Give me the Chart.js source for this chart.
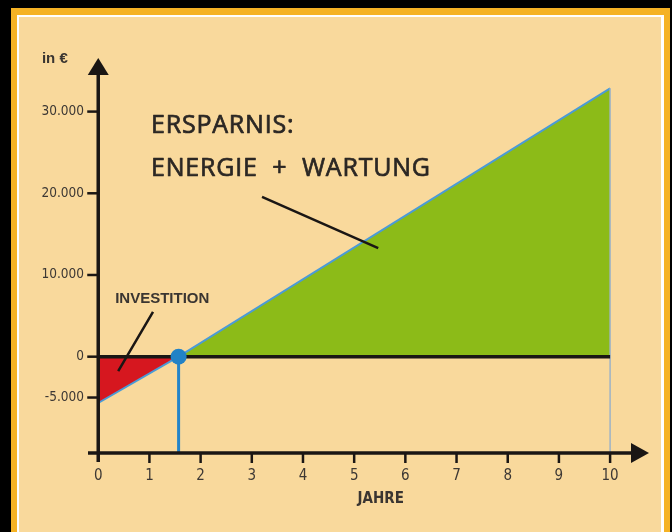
<!DOCTYPE html>
<html>
<head>
<meta charset="utf-8">
<script src="https://cdn.jsdelivr.net/npm/chart.js@4.4.1/dist/chart.umd.min.js"></script>
<style>
  html, body { margin: 0; padding: 0; background: #000; width: 672px; height: 532px; overflow: hidden; }
  .frame { position: absolute; left: 11px; top: 8px; width: 659px; height: 600px; background: #f5b224; }
  .inner { position: absolute; left: 6px; top: 7px; right: 6px; bottom: 0; background: #fff; }
  .panel { position: absolute; left: 2px; top: 2px; right: 3px; bottom: 0; background: #f9d99c; }
  #chart { position: absolute; left: 0; top: 0; }
</style>
</head>
<body>
<div class="frame"><div class="inner"><div class="panel"></div></div></div>
<canvas id="chart" width="672" height="532"></canvas>
<script>
// Werte
const years = [0, 1.57, 10];          // Jahre
const saldo = [-5670, 0, 32850];      // Saldo in €
const xTickValues = [0, 1, 2, 3, 4, 5, 6, 7, 8, 9, 10];
const yTickValues = [-5000, 0, 10000, 20000, 30000];

// Achsenbereich
const X_MIN = -0.2, X_MAX = 10.76;
const Y_MIN = -11790, Y_MAX = 36560;

const breakEven = years[1];
const redData = years.slice(0, 2).map((x, i) => ({ x, y: saldo[i] }));
const greenData = years.slice(1).map((x, i) => ({ x, y: saldo[i + 1] }));
const zeroLine = [{ x: years[0], y: 0 }, { x: years[2], y: 0 }];
const dropLine = [{ x: breakEven, y: 0 }, { x: breakEven, y: Y_MIN }];
const endLine = [{ x: years[2], y: saldo[2] }, { x: years[2], y: Y_MIN }];

const DARK = '#2b2724';
const TICK_COLOR = '#3d3834';
const NARROW = '"DejaVu Sans Condensed", "Liberation Sans", sans-serif';

function formatDE(v) {
  const s = Math.abs(v).toString().replace(/\B(?=(\d{3})+(?!\d))/g, '.');
  return (v < 0 ? '-' : '') + s;
}

// ==================== Achsen, Pfeile, Beschriftungen ====================
const axesPlugin = {
  id: 'axesPlugin',
  afterDatasetsDraw(chart) {
    const { ctx, chartArea, scales: { x, y } } = chart;
    const px0 = x.getPixelForValue(0);
    const axisY = y.getPixelForValue(Y_MIN);

    ctx.save();
    ctx.strokeStyle = '#1a1614';
    ctx.fillStyle = '#1a1614';
    ctx.lineCap = 'butt';

    // y-Achse
    ctx.lineWidth = 3.5;
    ctx.beginPath();
    ctx.moveTo(px0, axisY + 9);
    ctx.lineTo(px0, chartArea.top + 15);
    ctx.stroke();
    ctx.beginPath();
    ctx.moveTo(px0, chartArea.top);
    ctx.lineTo(px0 - 10.5, chartArea.top + 17);
    ctx.lineTo(px0 + 10.5, chartArea.top + 17);
    ctx.closePath();
    ctx.fill();

    // x-Achse
    ctx.beginPath();
    ctx.moveTo(chartArea.left, axisY);
    ctx.lineTo(chartArea.right - 16, axisY);
    ctx.stroke();
    ctx.beginPath();
    ctx.moveTo(chartArea.right, axisY);
    ctx.lineTo(chartArea.right - 18, axisY - 10);
    ctx.lineTo(chartArea.right - 18, axisY + 10);
    ctx.closePath();
    ctx.fill();

    // Striche
    ctx.lineWidth = 2.5;
    xTickValues.forEach(v => {
      if (v === 0) return;
      const px = x.getPixelForValue(v);
      ctx.beginPath();
      ctx.moveTo(px, axisY);
      ctx.lineTo(px, axisY + 10);
      ctx.stroke();
    });
    yTickValues.forEach(v => {
      const py = y.getPixelForValue(v);
      ctx.beginPath();
      ctx.moveTo(px0 - 11, py);
      ctx.lineTo(px0, py);
      ctx.stroke();
    });

    // Hinweislinien
    ctx.lineWidth = 2.5;
    ctx.beginPath();
    ctx.moveTo(x.getPixelForValue(3.2), y.getPixelForValue(19550));
    ctx.lineTo(x.getPixelForValue(5.47), y.getPixelForValue(13300));
    ctx.moveTo(x.getPixelForValue(1.07), y.getPixelForValue(5490));
    ctx.lineTo(x.getPixelForValue(0.39), y.getPixelForValue(-1760));
    ctx.stroke();

    // Texte (leicht verstärkt, etwa "medium")
    ctx.textBaseline = 'alphabetic';
    ctx.fillStyle = DARK;
    ctx.strokeStyle = DARK;
    ctx.lineWidth = 0.7;
    ctx.lineJoin = 'round';
    ctx.textAlign = 'left';
    ctx.font = '25px "Open Sans", sans-serif';
    ctx.letterSpacing = '0.8px';
    const tx = x.getPixelForValue(1.03);
    [['ERSPARNIS:', 27380], ['ENERGIE  +  WARTUNG', 22120]].forEach(([t, v]) => {
      ctx.fillText(t, tx, y.getPixelForValue(v));
      ctx.strokeText(t, tx, y.getPixelForValue(v));
    });
    ctx.letterSpacing = '0px';

    ctx.fillStyle = '#3a3531';
    ctx.font = 'bold 15px "Liberation Sans", sans-serif';
    ctx.fillText('INVESTITION', x.getPixelForValue(0.33), y.getPixelForValue(6560));

    ctx.font = 'bold 15px "Liberation Sans", sans-serif';
    ctx.fillText('in €', x.getPixelForValue(-1.1), y.getPixelForValue(Y_MAX) + 5);

    ctx.textAlign = 'center';
    ctx.font = 'bold 15px ' + NARROW;
    ctx.fillText('JAHRE', x.getPixelForValue(5.52), y.getPixelForValue(-17900));
    ctx.restore();
  }
};

const ctx = document.getElementById('chart').getContext('2d');
new Chart(ctx, {
  type: 'line',
  data: {
    datasets: [
      {
        data: [{ x: breakEven, y: 0 }],
        showLine: false,
        pointRadius: 8,
        pointBackgroundColor: '#2282c6',
        pointBorderWidth: 0,
        order: 0
      },
      {
        data: zeroLine,
        borderColor: '#1a1614',
        borderWidth: 3.5,
        pointRadius: 0,
        order: 1
      },
      {
        data: dropLine,
        borderColor: '#2484c8',
        borderWidth: 3,
        pointRadius: 0,
        order: 2
      },
      {
        data: endLine,
        borderColor: '#9fb3c6',
        borderWidth: 1.5,
        pointRadius: 0,
        order: 3
      },
      {
        label: 'Investition',
        data: redData,
        borderColor: '#4b9bd6',
        borderWidth: 2,
        backgroundColor: '#d6171f',
        fill: 'origin',
        pointRadius: 0,
        order: 4
      },
      {
        label: 'Ersparnis',
        data: greenData,
        borderColor: '#4b9bd6',
        borderWidth: 2,
        backgroundColor: '#8cbb18',
        fill: 'origin',
        pointRadius: 0,
        order: 5
      }
    ]
  },
  options: {
    responsive: false,
    animation: false,
    layout: { padding: { top: 58, right: 23, left: 0, bottom: 0 } },
    plugins: {
      legend: { display: false },
      tooltip: { enabled: false }
    },
    elements: { line: { tension: 0, borderCapStyle: 'butt' } },
    scales: {
      x: {
        type: 'linear',
        min: X_MIN,
        max: X_MAX,
        grid: { display: false, drawTicks: false },
        border: { display: false },
        afterBuildTicks: (s) => { s.ticks = xTickValues.map(v => ({ value: v })); },
        afterFit: (s) => { s.height = 79; },
        ticks: {
          autoSkip: false,
          maxRotation: 0,
          padding: 14,
          color: TICK_COLOR,
          font: { family: NARROW, size: 15 },
          callback: (v) => String(v)
        }
      },
      y: {
        type: 'linear',
        min: Y_MIN,
        max: Y_MAX,
        grid: { display: false, drawTicks: false },
        border: { display: false },
        afterBuildTicks: (s) => { s.ticks = yTickValues.map(v => ({ value: v })); },
        afterFit: (s) => { s.width = 88; },
        ticks: {
          autoSkip: false,
          padding: 4,
          color: TICK_COLOR,
          font: { family: NARROW, size: 13.5 },
          callback: (v) => formatDE(v)
        }
      }
    }
  },
  plugins: [axesPlugin]
});
</script>
</body>
</html>
